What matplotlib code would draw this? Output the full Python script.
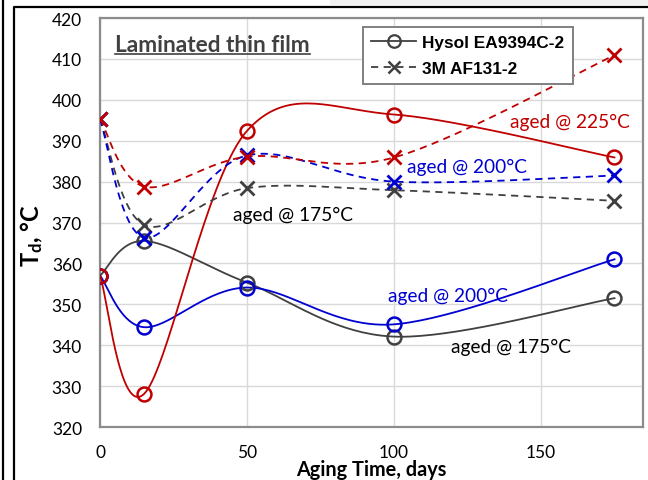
import numpy as np
import matplotlib
matplotlib.use('Agg')
import matplotlib.pyplot as plt
from matplotlib.lines import Line2D
from matplotlib.patches import Rectangle

# aging times (days)
days = [0, 15, 50, 100, 175]

# Hysol EA9394C-2 (solid line, circles)
hysol_175 = [357, 365.5, 355.3, 342.1, 351.5]
hysol_200 = [357, 344.4, 354.1, 345.1, 361]
hysol_225 = [357, 328.1, 392.4, 396.4, 385.9]

# 3M AF131-2 (dashed line, crosses)
af131_175 = [395.3, 369.4, 378.4, 377.9, 375.3]
af131_200 = [395.3, 366.3, 386.4, 380.0, 381.5]
af131_225 = [395.3, 378.8, 386.1, 385.9, 410.9]

GRAY = '#404040'
BLUE = '#0000D0'
RED = '#C00000'

plt.rcParams['font.family'] = ['Lato', 'DejaVu Sans']
plt.rcParams['mathtext.fontset'] = 'custom'
plt.rcParams['mathtext.rm'] = 'Lato'
plt.rcParams['mathtext.bf'] = 'Lato:bold'


def smooth(x, y, n=40):
    # Excel-style smoothed line: cubic Bezier through the points (Catmull-Rom)
    p = np.column_stack([x, y]).astype(float)
    ext = np.vstack([p[0], p, p[-1]])
    t = np.linspace(0, 1, n)[:, None]
    out = []
    for i in range(len(p) - 1):
        p0, p1, p2, p3 = ext[i], ext[i + 1], ext[i + 2], ext[i + 3]
        c1 = p1 + (p2 - p0) / 6
        c2 = p2 - (p3 - p1) / 6
        seg = ((1 - t) ** 3) * p1 + 3 * ((1 - t) ** 2) * t * c1 + 3 * (1 - t) * t ** 2 * c2 + t ** 3 * p2
        out.append(seg if i == 0 else seg[1:])
    out = np.vstack(out)
    return out[:, 0], out[:, 1]


fig = plt.figure(figsize=(6.48, 4.81), dpi=100)
ax = fig.add_axes([100 / 648, 1 - 428 / 481, 543 / 648, 409 / 481])

ax.set_xlim(0, 184.7)
ax.set_ylim(320, 420)
ax.set_xticks([0, 50, 100, 150])
ax.set_yticks(np.arange(320, 421, 10))
ax.grid(True, color='#d9d9d9', linewidth=1.0)
ax.set_axisbelow(True)
ax.tick_params(length=0, labelsize=12.5, colors='black')
ax.tick_params(axis='x', pad=12)
ax.tick_params(axis='y', pad=13)
for s in ax.spines.values():
    s.set_color('#8c8c8c')
    s.set_linewidth(1.6)

series = [
    (hysol_175, GRAY, '-', 'o'),
    (hysol_200, BLUE, '-', 'o'),
    (hysol_225, RED, '-', 'o'),
    (af131_175, GRAY, '--', 'x'),
    (af131_200, BLUE, '--', 'x'),
    (af131_225, RED, '--', 'x'),
]
for vals, col, ls, mk in series:
    sx, sy = smooth(days, vals)
    ax.plot(sx, sy, color=col, linestyle=ls, linewidth=1.3, zorder=3,
            dashes=(4, 3) if ls == '--' else (None, None))
    if mk == 'o':
        ax.plot(days, vals, linestyle='none', marker='o', markersize=10,
                markerfacecolor='none', markeredgecolor=col, markeredgewidth=1.8, zorder=4)
    else:
        ax.plot(days, vals, linestyle='none', marker='x', markersize=10,
                markeredgecolor=col, markeredgewidth=2.0, zorder=4)

# annotations
ann_size = 13.8
ax.text(139.5, 394.6, 'aged @ 225°C', color=RED, fontsize=ann_size, va='center', ha='left')
ax.text(104.4, 383.7, 'aged @ 200°C', color=BLUE, fontsize=ann_size, va='center', ha='left')
ax.text(45.2, 372.0, 'aged @ 175°C', color='black', fontsize=ann_size, va='center', ha='left')
ax.text(98.0, 352.2, 'aged @ 200°C', color=BLUE, fontsize=ann_size, va='center', ha='left')
ax.text(119.4, 339.8, 'aged @ 175°C', color='black', fontsize=ann_size, va='center', ha='left')

title = ax.text(5.2, 413.4, 'Laminated thin film', color=GRAY, fontsize=16.3,
                fontweight='bold', va='center', ha='left')

# legend
handles = [
    Line2D([], [], color=GRAY, linestyle='-', linewidth=1.3, marker='o', markersize=9,
           markerfacecolor='none', markeredgewidth=1.6),
    Line2D([], [], color=GRAY, linestyle='--', linewidth=1.3, marker='x', markersize=9,
           markeredgewidth=1.8, dashes=(4, 3)),
]
leg = ax.legend(handles, ['Hysol EA9394C-2', '3M AF131-2'],
                loc='upper left', bbox_to_anchor=(0.468, 1.0),
                prop={'family': ['Liberation Sans'], 'weight': 'bold', 'size': 12.4},
                frameon=True, fancybox=False, framealpha=1, edgecolor='#808080',
                handlelength=2.6, handletextpad=0.35, borderpad=0.5, labelspacing=0.6)
leg.get_frame().set_linewidth(1.4)

# axis labels
fig.text(371.5 / 648, 1 - 470 / 481, 'Aging Time, days', fontsize=14.3, fontweight='bold',
         ha='center', va='center')
fig.text(32 / 648, 1 - 236 / 481, r'$\mathbf{T_{d}}$, °C', fontsize=17, fontweight='bold',
         ha='center', va='center', rotation=90)

# outer frame lines
fig.add_artist(Rectangle((330 / 648, 1 - 6 / 481), 318 / 648, 6 / 481, transform=fig.transFigure,
                         facecolor='#f0f0f0', edgecolor='none'))
fig.add_artist(Line2D([2.5 / 648, 2.5 / 648], [0, 1], transform=fig.transFigure, color='black', linewidth=1.6))
fig.add_artist(Line2D([13.5 / 648, 13.5 / 648, 1], [0, 1 - 7.5 / 481, 1 - 7.5 / 481],
                      transform=fig.transFigure, color='black', linewidth=1.6))

# underline for the title
fig.canvas.draw()
bb = title.get_window_extent().transformed(fig.transFigure.inverted())
fig.add_artist(Line2D([bb.x0, bb.x1], [bb.y0 + 0.004, bb.y0 + 0.004], transform=fig.transFigure,
                      color=GRAY, linewidth=1.2))

fig.savefig('out.png', dpi=100)
